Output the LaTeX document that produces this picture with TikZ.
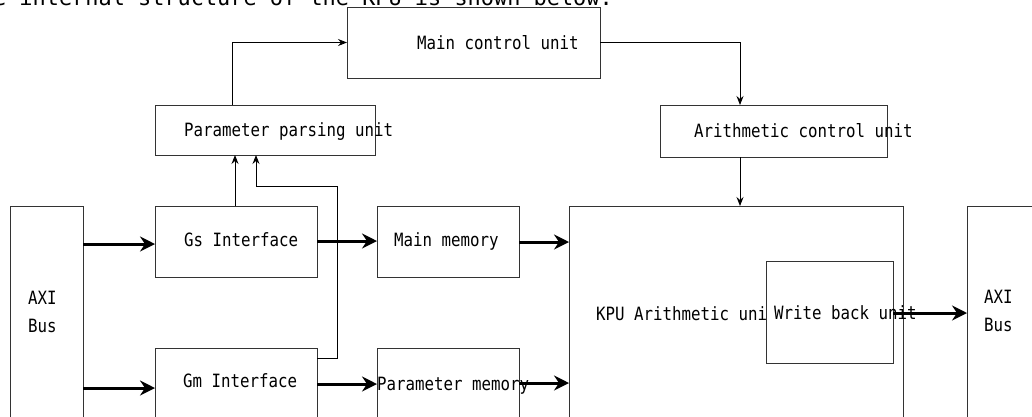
\documentclass[tikz,border=0pt]{standalone}
\usepackage{fontspec}
\newfontfamily\dfont[FakeStretch=0.862]{DejaVu Sans Mono}
\newfontfamily\tfont{DejaVu Sans Mono}
\usetikzlibrary{arrows.meta}
\begin{document}
\begin{tikzpicture}[x=1pt,y=-1pt,
  box/.style={draw=black!80, line width=1pt, fill=white, anchor=north west, inner sep=0pt, outer sep=0pt},
  lbl/.style={font=\dfont\fontsize{18.3}{28}\selectfont, inner sep=0pt, anchor=base west},
  thinarr/.style={draw=black, line width=1pt, -{Stealth[length=9pt,width=7pt,inset=3pt]}},
  thickarr/.style={draw=black, line width=3pt, -{Stealth[length=15pt,width=15pt,inset=5pt]}}
]
\useasboundingbox (0,0) rectangle (1032,416);
% caption line (cut at the top)
\node[font=\tfont\fontsize{21.9}{26}\selectfont, inner sep=0pt, anchor=base east] (cap) at (613,5.5) {e internal structure of the KPU is shown below.};
% boxes
\node[box, minimum width=253, minimum height=71] (mcu) at (347,7) {};
\node[box, minimum width=220, minimum height=50] (ppu) at (155,105) {};
\node[box, minimum width=227, minimum height=52] (acu) at (660,105) {};
\node[box, minimum width=73, minimum height=240] (laxi) at (10,206) {};
\node[box, minimum width=162, minimum height=71] (gs) at (155,206) {};
\node[box, minimum width=142, minimum height=71] (mm) at (377,206) {};
\node[box, minimum width=162, minimum height=71] (gm) at (155,348) {};
\node[box, minimum width=142, minimum height=71] (pm) at (377,348) {};
\node[box, minimum width=334, minimum height=240] (kpu) at (569,206) {};
\node[box, minimum width=100, minimum height=240] (raxi) at (967,206) {};
% texts
\node[lbl] (tmcu) at (417,49) {Main control unit};
\node[lbl] (tppu) at (184,136.5) {Parameter parsing unit};
\node[lbl] (tacu) at (694,137.5) {Arithmetic control unit};
\node[lbl] (tgs) at (184,246) {Gs Interface};
\node[lbl] (tmm) at (394,246) {Main memory};
\node[lbl] (tgm) at (183,387.5) {Gm Interface};
\node[lbl] (tpm) at (377,390) {Parameter memory};
\node[lbl] (tkpu) at (596,320) {KPU Arithmetic unit};
\node[lbl, anchor=north west, align=left] (tlaxi) at (28,291) {AXI\\Bus};
\node[lbl, anchor=north west, align=left] (traxi) at (984,290) {AXI\\Bus};
% write back unit on top of KPU text
\node[box, minimum width=127, minimum height=102] (wbu) at (766,261) {};
\node[lbl] (twbu) at (774,319.5) {Write back unit};
% thin connectors
\draw[thinarr] (232,0 |- ppu.north) |- (mcu.west);
\draw[thinarr] (mcu.east) -| (740,0 |- acu.north);
\draw[thinarr] (740,0 |- acu.south) -- (740,0 |- kpu.north);
\draw[thinarr] (235,0 |- gs.north) -- (235,0 |- ppu.south);
\draw[thinarr] (gm.east |- 0,358) -- (337,358) -- (337,186) -- (256,186) -- (256,0 |- ppu.south);
% thick connectors
\draw[thickarr] (laxi.east |- 0,244) -- (gs.west |- 0,244);
\draw[thickarr] (laxi.east |- 0,388) -- (gm.west |- 0,388);
\draw[thickarr] (gs.east |- 0,241) -- (mm.west |- 0,241);
\draw[thickarr] (gm.east |- 0,384) -- (pm.west |- 0,384);
\draw[thickarr] (mm.east |- 0,242) -- (kpu.west |- 0,242);
\draw[thickarr] (pm.east |- 0,383) -- (kpu.west |- 0,383);
\draw[thickarr] (wbu.east |- 0,313) -- (raxi.west |- 0,313);
\end{tikzpicture}
\end{document}
